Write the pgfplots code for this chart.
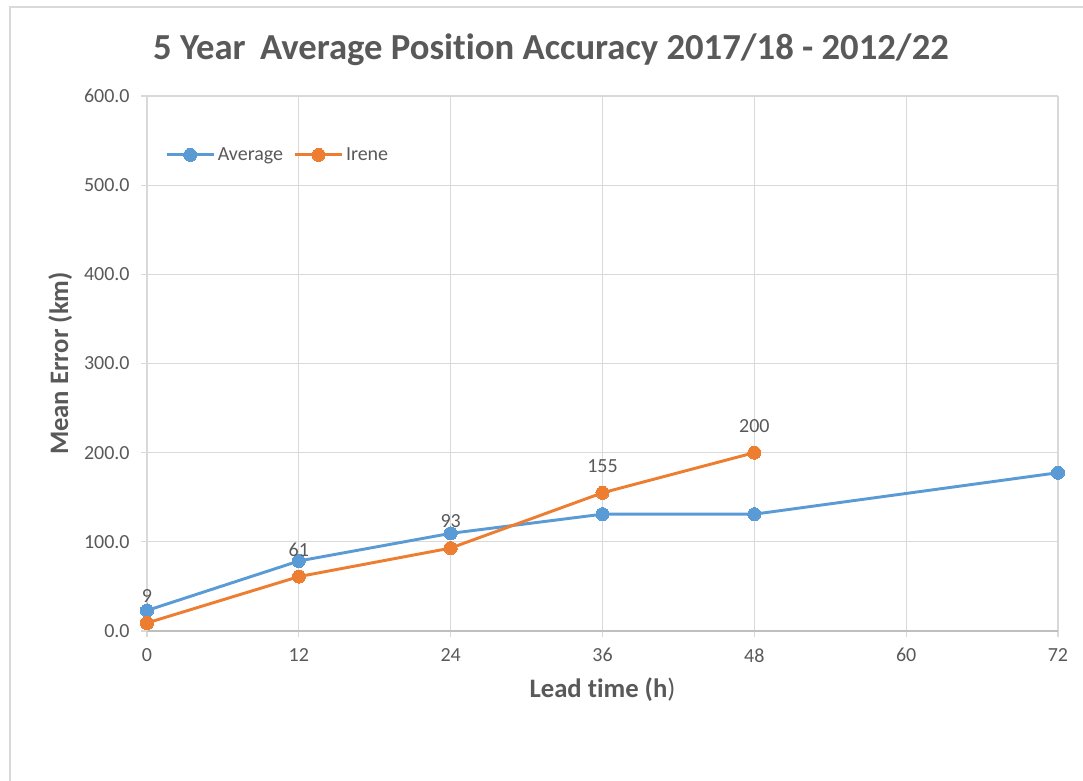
\documentclass[border=0pt]{standalone}
\usepackage{pgfplots}
\pgfplotsset{compat=1.18}
\usepackage{fontspec}
\setmainfont{Carlito}[Ligatures={NoCommon}]
\definecolor{txt}{HTML}{595959}
\definecolor{gridc}{HTML}{D9D9D9}
\definecolor{axc}{HTML}{BFBFBF}
\definecolor{cblue}{HTML}{5B9BD5}
\definecolor{corange}{HTML}{ED7D31}
\begin{document}
\begin{tikzpicture}
% px -> pt : 0.75
\useasboundingbox (0,0) rectangle (812.25pt,585.75pt);
\draw[gridc, line width=1.1pt] (7.5pt,0pt) -- (7.5pt,580.5pt) -- (812.25pt,580.5pt);
\node[text=txt, font=\fontsize{27.5}{32}\selectfont\bfseries] at (413.25pt,548.25pt) {5 Year\, Average Position Accuracy 2017/18 - 2012/22};
\begin{axis}[
  at={(110.25pt,112.5pt)}, anchor=south west,
  scale only axis, width=683.25pt, height=401.25pt,
  xmin=0, xmax=72, ymin=0, ymax=600,
  xtick={0,12,24,36,48,60,72},
  ytick={0,100,...,600},
  grid=major,
  major grid style={gridc, line width=0.9pt},
  axis x line=bottom, axis y line=left,
  axis line style={-},
  x axis line style={axc, line width=1.2pt},
  y axis line style={gridc, line width=0.9pt},
  tick style={gridc, line width=0.9pt},
  major tick length=4.5pt,
  tick align=outside,
  every tick label/.append style={text=txt, font=\fontsize{15}{18}\selectfont},
  /pgf/number format/assume math mode=true,
  yticklabel={\pgfmathprintnumber[fixed,fixed zerofill,precision=1]{\tick}},
  xticklabel={\pgfmathprintnumber[fixed,precision=0]{\tick}},
  yticklabel style={xshift=-5pt},
  xticklabel style={yshift=-5pt},
  xlabel={\textbf{Lead time (h})},
  ylabel={\textbf{Mean Error (km)}},
  every axis x label/.style={at={(rel axis cs:0.5,0)}, anchor=center, yshift=-44pt, text=txt, font=\fontsize{20}{24}\selectfont},
  every axis y label/.style={at={(rel axis cs:0,0.5)}, anchor=center, xshift=-65pt, rotate=90, text=txt, font=\fontsize{20}{24}\selectfont},
  legend columns=2,
  legend style={at={(0.02,0.89)}, anchor=west, draw=none, fill=none,
    text=txt, font=\fontsize{15}{18}\selectfont, inner sep=0pt,
    /tikz/every even column/.append style={column sep=6pt}},
  legend cell align=left,
  legend image code/.code={\draw[mark repeat=2,mark phase=2] plot coordinates {(0pt,0pt) (17.5pt,0pt) (35pt,0pt)};},
  clip=false,
]
\addplot[cblue, line width=2.2pt, mark=*, mark size=4.9pt, mark options={solid, fill=cblue, draw=cblue, line width=0pt}]
  coordinates {(0,23) (12,78.5) (24,109.5) (36,131) (48,131) (72,177.5)};
\addlegendentry{Average}
\addplot[corange, line width=2.2pt, mark=*, mark size=4.9pt, mark options={solid, fill=corange, draw=corange, line width=0pt},
  nodes near coords, nodes near coords align={center},
  every node near coord/.append style={text=txt, font=\fontsize{15}{18}\selectfont, yshift=20pt, /pgf/number format/assume math mode=true}]
  coordinates {(0,9) (12,61) (24,93) (36,155) (48,200)};
\addlegendentry{Irene}
\end{axis}
\end{tikzpicture}
\end{document}
